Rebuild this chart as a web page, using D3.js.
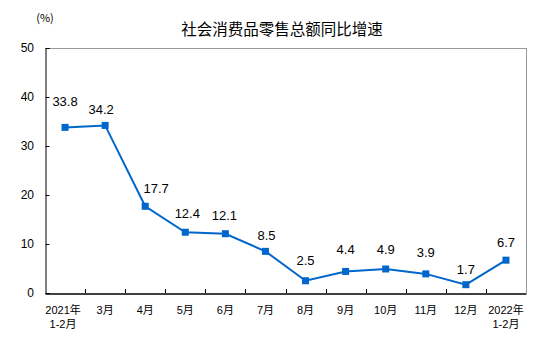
<!DOCTYPE html>
<html><head><meta charset="utf-8">
<script src="https://cdn.jsdelivr.net/npm/d3@7"></script>
<style>body{margin:0;background:#fff}svg{display:block}</style>
</head><body>
<svg id="c" width="554" height="351"></svg>
<script>
const categories = [["2021年","1-2月"],["3月"],["4月"],["5月"],["6月"],["7月"],["8月"],["9月"],["10月"],["11月"],["12月"],["2022年","1-2月"]];
const values = [33.8,34.2,17.7,12.4,12.1,8.5,2.5,4.4,4.9,3.9,1.7,6.7];
const yTicks = [0,10,20,30,40,50];
const title = "社会消费品零售总额同比增速";
const unit = "(%)";
// label placement offsets (dx, dy) relative to the marker
const labelOffsets = [[0,-26],[-4,-16],[11,-18],[2,-19],[-1,-18],[1,-16],[0,-20],[0,-22],[0,-20],[0,-21],[0,-15],[0,-18]];

const svg = d3.select("#c");
const m = {l:45, r:526, t:48, b:293};
const x = d3.scaleBand().domain(d3.range(categories.length)).range([m.l, m.r]);
const y = d3.scaleLinear().domain([0,50]).range([m.b, m.t]);
const color = "#0066CC";
const cjk = "'Noto Sans CJK SC', 'DejaVu Sans', sans-serif";
const mixed = "'Liberation Sans', 'Noto Sans CJK SC', sans-serif";

// frame top/right
svg.append("line").attr("x1",m.l).attr("x2",m.r).attr("y1",m.t+0.5).attr("y2",m.t+0.5).attr("stroke","#999").attr("stroke-width",1);
svg.append("line").attr("x1",m.r+0.5).attr("x2",m.r+0.5).attr("y1",m.t).attr("y2",m.b).attr("stroke","#999").attr("stroke-width",1);

// y axis
const yAxis = svg.append("g").attr("transform",`translate(${m.l+0.5},0)`)
  .call(d3.axisRight(y).tickValues(yTicks).tickSize(4).tickFormat(""));
yAxis.select(".domain").attr("stroke","#000");
yAxis.selectAll(".tick line").attr("stroke","#000");
svg.append("g").selectAll("text").data(yTicks).join("text")
  .attr("x",34).attr("y",d=>y(d)).attr("dy","0.35em").attr("text-anchor","end")
  .attr("font-family",mixed).attr("font-size",12).attr("fill","#000").text(d=>d);

// x axis
const xAxis = svg.append("g").attr("transform",`translate(0,${m.b+0.5})`)
  .call(d3.axisTop(x).tickValues([]).tickSizeOuter(0));
xAxis.select(".domain").attr("stroke","#000").attr("stroke-width",1.5);
const bounds = d3.range(1, categories.length).map(i => x(i));
svg.append("g").selectAll("line").data(bounds).join("line")
  .attr("x1",d=>Math.round(d)+0.5).attr("x2",d=>Math.round(d)+0.5)
  .attr("y1",m.b).attr("y2",m.b-4).attr("stroke","#000");
const catLines = [];
categories.forEach((d,i)=>d.forEach((s,j)=>catLines.push({i,j,s})));
svg.append("g").selectAll("text").data(catLines).join("text")
  .attr("font-family",mixed).attr("font-size",11).attr("fill","#000").attr("text-anchor","middle")
  .attr("x",d=>x(d.i)+x.bandwidth()/2 + (d.i===0? -2 : 0))
  .attr("y",d=>m.b+21+d.j*14)
  .text(d=>d.s);

// line
const line = d3.line().x((d,i)=>x(i)+x.bandwidth()/2).y(d=>y(d));
svg.append("path").datum(values).attr("d",line).attr("fill","none").attr("stroke",color).attr("stroke-width",2);
svg.append("g").selectAll("rect").data(values).join("rect")
  .attr("x",(d,i)=>x(i)+x.bandwidth()/2-3.5).attr("y",d=>y(d)-3.5).attr("width",7).attr("height",7).attr("fill",color);

// labels
svg.append("g").selectAll("text").data(values).join("text")
  .attr("x",(d,i)=>x(i)+x.bandwidth()/2+labelOffsets[i][0]).attr("y",(d,i)=>y(d)+labelOffsets[i][1])
  .attr("dy","0.35em").attr("text-anchor","middle")
  .attr("font-family","'Liberation Sans', Arial, sans-serif").attr("font-size",13).attr("fill","#000")
  .text(d=>d.toFixed(1));

// title & unit
svg.append("text").attr("x",282).attr("y",35).attr("text-anchor","middle")
  .attr("font-family",cjk).attr("font-size",15.5).attr("fill","#000").text(title);
svg.append("text").attr("x",45).attr("y",22).attr("text-anchor","middle")
  .attr("font-family",cjk).attr("font-size",11).attr("fill","#000").text(unit);
</script>
</body></html>
